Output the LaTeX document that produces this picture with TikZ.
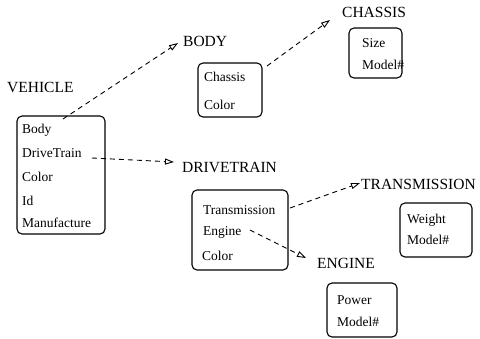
\documentclass[tikz,border=0pt]{standalone}
\usepackage{fontspec}
\setmainfont{Liberation Serif}
\usetikzlibrary{arrows.meta}
\begin{document}
\begin{tikzpicture}[x=1pt,y=-1pt,
  lbl/.style={anchor=west,inner sep=0pt,font=\fontsize{15.5}{18}\selectfont},
  item/.style={anchor=west,inner sep=0pt,font=\fontsize{13.5}{16}\selectfont},
  cbox/.style={draw,line width=1.1pt,rounded corners=5pt},
  link/.style={draw,line width=0.9pt,dash pattern=on 5pt off 4pt,
    -{Triangle[open,length=9pt,width=6pt,line width=0.9pt]}}]
\useasboundingbox (0,0) rectangle (480,338);
% VEHICLE
\node[lbl] (vehicle) at (7,87) {VEHICLE};
\node[cbox,minimum width=88pt,minimum height=118pt] (vbox) at (61,175) {};
\node[item] (vbody) at (22,130) {Body};
\node[item] (vdrive) at (22,153) {DriveTrain};
\node[item] (vcolor) at (22,177) {Color};
\node[item] (vid) at (22,201) {Id};
\node[item] (vmanu) at (22,223) {Manufacture};
% BODY
\node[lbl] (body) at (183,41) {BODY};
\node[cbox,minimum width=64pt,minimum height=54pt] (bbox) at (230,90) {};
\node[item] (bchassis) at (204,77) {Chassis};
\node[item] (bcolor) at (204,105) {Color};
% CHASSIS
\node[lbl] (chassis) at (342,12) {CHASSIS};
\node[cbox,minimum width=53pt,minimum height=50pt] (cbox1) at (375.5,53) {};
\node[item] (csize) at (362,43) {Size};
\node[item] (cmodel) at (362,65) {Model\#};
% DRIVETRAIN
\node[lbl] (drivetrain) at (182,167) {DRIVETRAIN};
\node[cbox,minimum width=96pt,minimum height=80pt] (dbox) at (240,230) {};
\node[item] (dtrans) at (203,210) {Transmission};
\node[item] (deng) at (203,232) {Engine};
\node[item] (dcolor) at (202,256) {Color};
% TRANSMISSION
\node[lbl] (transmission) at (361,184) {TRANSMISSION};
\node[cbox,minimum width=72pt,minimum height=54pt] (tbox) at (436,230) {};
\node[item] (tweight) at (407,220) {Weight};
\node[item] (tmodel) at (407,240) {Model\#};
% ENGINE
\node[lbl] (engine) at (317,263) {ENGINE};
\node[cbox,minimum width=70pt,minimum height=54pt] (ebox) at (362,310) {};
\node[item] (epower) at (337,300) {Power};
\node[item] (emodel) at (337,322) {Model\#};
% connectors
\coordinate (s1) at (63,119);
\coordinate (s2) at (267,66);
\coordinate (s3) at (92,158);
\coordinate (s4) at (290,208);
\coordinate (s5) at (250,230);
\coordinate (e5) at (306,258);
\path[link] (s1) -- ([xshift=-5pt,yshift=-2pt]body.west);
\path[link] (s2) -- ([xshift=-12pt,yshift=-8pt]chassis.west);
\path[link] (s3) -- ([xshift=-8pt,yshift=5pt]drivetrain.west);
\path[link] (s4) -- ([xshift=-1pt,yshift=1pt]transmission.west);
\path[link] (s5) -- (e5);
\end{tikzpicture}
\end{document}
